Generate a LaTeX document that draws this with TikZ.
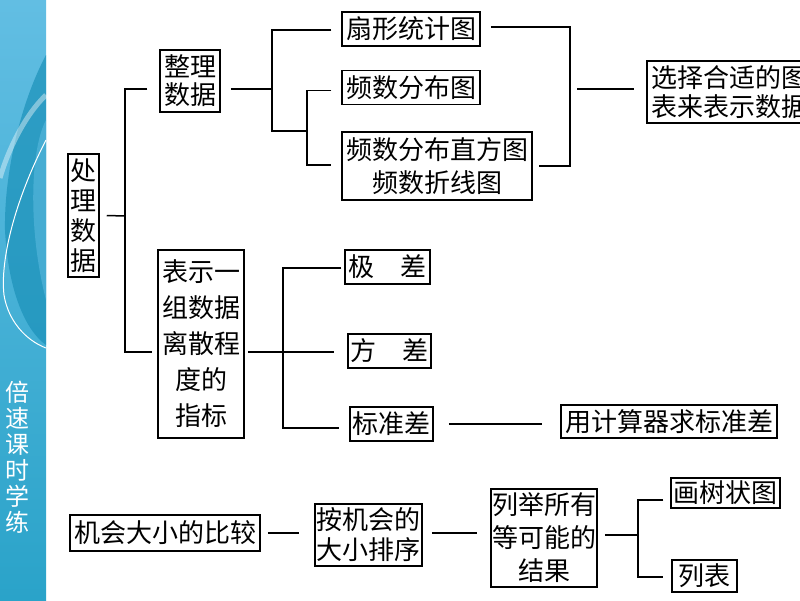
\documentclass[tikz,border=0pt]{standalone}
\usepackage{fontspec}
\usepackage{xcolor}
\newfontfamily\cjk{Noto Sans CJK SC}
\usetikzlibrary{calc,
	positioning}
\definecolor{barlight}{HTML}{62BEE3}
\definecolor{bardark}{HTML}{2AA3C9}
\definecolor{barswirl}{HTML}{1B91B9}
\tikzset{
	box/.style={draw=black, line width=1.5pt, inner sep=0pt, align=center, font=\cjk\fontsize{26}{30}\selectfont},
	conn/.style={draw=black, line width=1.5pt}
}

\begin{document}
\begin{tikzpicture}[x=1pt, y=-1pt]
                        \useasboundingbox (0,0) rectangle (800,600);
                        \clip (0,0) rectangle (800,600);
                        % side bar
                        \shade[top color=barlight, bottom color=bardark] (0,0) rectangle (46,600);
                        \fill[barswirl, opacity=0.7] (46,55) .. controls (22,100) and (4,170) .. (5,230) .. controls (8,290) and (25,330) .. (46,345) -- cycle;
                        \fill[barlight, opacity=0.5] (46,120) .. controls (30,150) and (28,230) .. (46,300) -- cycle;
                        \draw[white, opacity=0.4, line width=5pt] (46,95) .. controls (25,115) and (8,150) .. (0,178);
                        \draw[white, line width=1pt] (46,140) .. controls (15,200) and (0,260) .. (4,295) .. controls (8,320) and (25,340) .. (46,348);
                        \node (banner) [text=white, align=center, inner sep=0pt, font=\cjk\fontsize{24}{26}\selectfont] at (17.5,457) {倍\\速\\课\\时\\学\\练};

                        % upper tree
                        \node (chuli) [box, minimum width=31pt, minimum height=123pt] at (83.5,215.5) {处\\理\\数\\据};
                        \node (zhengli) [box, minimum width=60pt, minimum height=62pt, font=\cjk\fontsize{26}{28}\selectfont] at (190,81) {整理\\数据};
                        \node (shanxing) [box, minimum width=138pt, minimum height=34pt] at (411,29) {扇形统计图};
                        \node (pinshu) [box, minimum width=138pt, minimum height=34pt, below=23pt of shanxing] {频数分布图};
                        \node (zhifang) [box, minimum width=190pt, minimum height=68pt, font=\cjk\fontsize{26}{33}\selectfont] at (437,166) {频数分布直方图\\频数折线图};
                        \node (xuanze) [box, minimum width=165pt, minimum height=62pt, font=\cjk\fontsize{26}{29}\selectfont] at (729.5,92) {选择合适的图\\表来表示数据};
                        \node (biaoshi) [box, minimum width=86pt, minimum height=188pt, font=\cjk\fontsize{26}{36}\selectfont] at (201,344) {表示一\\组数据\\离散程\\度的\\指标};
                        \node (jicha) [box, minimum width=85pt, minimum height=34pt] at (387.5,267) {极\hspace{1em}差};
                        \node (fangcha) [box, minimum width=83pt, minimum height=34pt] at (389.5,351) {方\hspace{1em}差};
                        \node (biaozhun) [box, minimum width=83pt, minimum height=34pt] at (391.5,424) {标准差};
                        \node (jisuanqi) [box, minimum width=216pt, minimum height=33pt] at (669,421.5) {用计算器求标准差};

                        % lower row
                        \node (jihui) [box, minimum width=190pt, minimum height=36pt] at (165,533) {机会大小的比较};
                        \node (anjihui) [box, minimum width=107pt, minimum height=62pt] at (368.5,535) {按机会的\\大小排序};
                        \node (lieju) [box, minimum width=106pt, minimum height=98pt, font=\cjk\fontsize{26}{33}\selectfont] at (544,538) {列举所有\\等可能的\\结果};
                        \node (shuzhuang) [box, minimum width=109pt, minimum height=30pt] at (725.5,493) {画树状图};
                        \node (liebiao) [box, minimum width=65pt, minimum height=32pt] at (704.5,576) {列表};

                        \coordinate (j1) at (125,216);
                        \coordinate (j2) at (272,89);
                        \coordinate (j3) at (307,131);
                        \coordinate (j5) at (570,89);
                        \coordinate (j6) at (283,352);
                        \coordinate (j7) at (638,535);

                        \draw[conn] ($(chuli.east)+(7,0)$) -- (j1);
                        \draw[conn] ($(zhengli.west)+(-12,8)$) -| (j1) |- ($(biaoshi.west)+(-5,8)$);
                        \draw[conn] ($(zhengli.east)+(10,8)$) -- (j2);
                        \draw[conn] ($(shanxing.west)+(-10,1)$) -| (j2) |- (j3);
                        \draw[conn] ($(pinshu.west)+(-10,3)$) -| (j3) |- ($(zhifang.west)+(-10,-1)$);
                        \draw[conn] ($(shanxing.east)+(10,-2)$) -| (j5) |- ($(zhifang.east)+(6,0)$);
                        \draw[conn] ($(j5)+(7,0)$) -- ($(xuanze.west)+(-12,-3)$);
                        \draw[conn] ($(biaoshi.east)+(3,8)$) -- ($(fangcha.west)+(-13,1)$);
                        \draw[conn] ($(jicha.west)+(-3,1)$) -| (j6) |- ($(biaozhun.west)+(-10,4)$);
                        \draw[conn] ($(biaozhun.east)+(15,0)$) -- ($(jisuanqi.west)+(-18,2.5)$);
                        \draw[conn] ($(jihui.east)+(7,0)$) -- ($(anjihui.west)+(-15,-2)$);
                        \draw[conn] ($(anjihui.east)+(9,-2)$) -- ($(lieju.west)+(-13,-5)$);
                        \draw[conn] ($(lieju.east)+(7,-3)$) -- (j7);
                        \draw[conn] ($(shuzhuang.west)+(-7,7)$) -| (j7) |- ($(liebiao.west)+(-8,1)$);
                    \end{tikzpicture}
\end{document}
